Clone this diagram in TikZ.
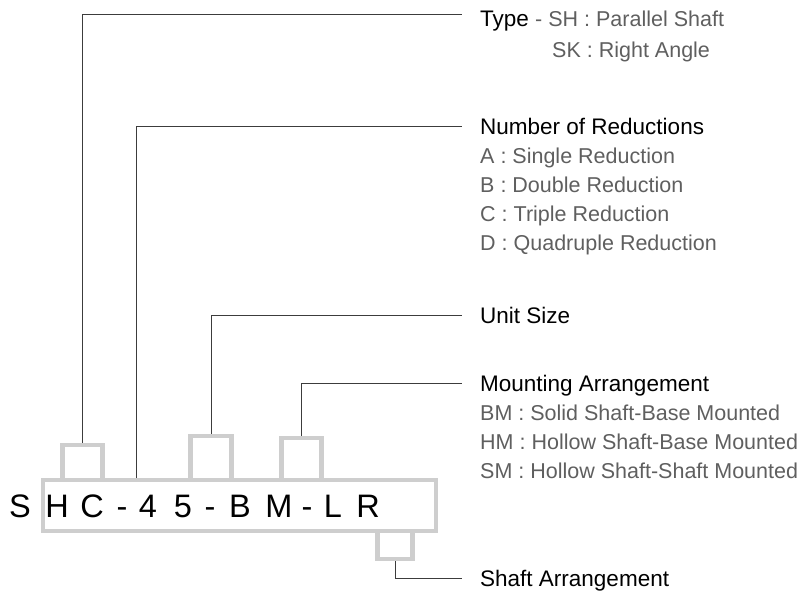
\documentclass[tikz,border=0pt]{standalone}
\usepackage{fontspec}
\setmainfont{Liberation Sans}
\usetikzlibrary{positioning}

\definecolor{boxgray}{RGB}{206,206,206}
\definecolor{leadgray}{RGB}{60,60,60}
\definecolor{itemgray}{RGB}{95,95,95}

\tikzset{
  frame/.style={draw=boxgray,line width=4.5pt,inner sep=0pt},
  lead/.style={draw=leadgray,line width=1pt},
  head/.style={anchor=base west,inner sep=0pt,font=\fontsize{22.5}{27}\selectfont},
  item/.style={anchor=base west,inner sep=0pt,text=itemgray,font=\fontsize{21.5}{26}\selectfont},
  glyph/.style={anchor=base,inner sep=0pt,font=\fontsize{32.5}{38}\selectfont}
}

\begin{document}
\begin{tikzpicture}[x=1pt,y=-1pt]
  \useasboundingbox (0,0) rectangle (800,594);
  % boxes round the code
  \node[frame,minimum width=393pt,minimum height=51pt] (code) at (239.5,505.5) {};
  \node[frame,minimum width=40pt,minimum height=35pt] (typebox) at (82.5,462.5) {};
  \node[frame,minimum width=41pt,minimum height=44pt] (sizebox) at (211,458) {};
  \node[frame,minimum width=40pt,minimum height=42pt] (mountbox) at (301.5,459) {};
  \node[frame,minimum width=35pt,minimum height=28pt] (shaftbox) at (395,545) {};
  \foreach \ch/\px [count=\i] in {S/20,H/57,C/92,-/122,4/148,5/183,-/210,B/240,M/279,-/307,L/333,R/368}
    \node[glyph] (ch\i) at (\px,517) {\ch};

  % labels
  \node[head] (typ) at (480,27) {Type \textcolor{itemgray}{\fontsize{21.5}{26}\selectfont - SH : Parallel Shaft}};
  \node[item] (sk) at (552,58) {SK : Right Angle};
  \node[head] (red) at (480,134) {Number of Reductions};
  \node[item] (reda) at (480,163) {A : Single Reduction};
  \node[item] (redb) at (480,192) {B : Double Reduction};
  \node[item] (redc) at (480,221) {C : Triple Reduction};
  \node[item] (redd) at (480,250) {D : Quadruple Reduction};
  \node[head] (size) at (480,323) {Unit Size};
  \node[head] (mount) at (480,391) {Mounting Arrangement};
  \node[item] (bm) at (480,420) {BM : Solid Shaft-Base Mounted};
  \node[item] (hm) at (480,449) {HM : Hollow Shaft-Base Mounted};
  \node[item] (sm) at (480,478) {SM : Hollow Shaft-Shaft Mounted};
  \node[head] (shaft) at (480,586) {Shaft Arrangement};

  % leaders
  \coordinate (typend) at (462,15);
  \coordinate (redfoot) at (136,478);
  \coordinate (redend) at (462,126);
  \coordinate (sizeend) at (462,315);
  \coordinate (mountend) at (462,383);
  \coordinate (shaftend) at (462,578);
  \draw[lead] (typebox.north) |- (typend);
  \draw[lead] (redfoot) |- (redend);
  \draw[lead] (sizebox.north) |- (sizeend);
  \draw[lead] (mountbox.north) |- (mountend);
  \draw[lead] (shaftbox.south) |- (shaftend);
\end{tikzpicture}
\end{document}
